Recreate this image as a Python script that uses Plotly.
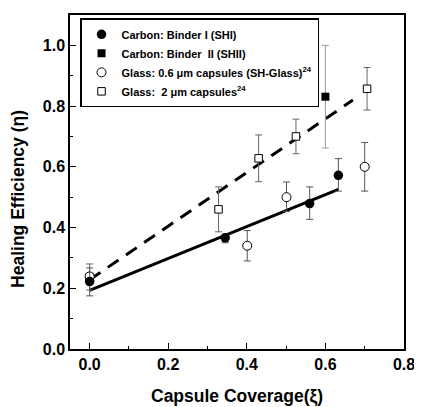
import plotly.graph_objects as go

# ---- data ----
shi_x = [0.0, 0.345, 0.56, 0.633]
shi_y = [0.222, 0.366, 0.479, 0.572]
shi_err_plus = [0.045, 0.012, 0.055, 0.055]
shi_err_minus = [0.047, 0.016, 0.052, 0.052]

shii_x = [0.60]
shii_y = [0.831]
shii_err_plus = [0.169]
shii_err_minus = [0.169]

glass06_x = [0.0, 0.401, 0.501, 0.70]
glass06_y = [0.239, 0.34, 0.50, 0.60]
glass06_err_plus = [0.0, 0.05, 0.05, 0.08]
glass06_err_minus = [0.0, 0.05, 0.047, 0.08]

glass2_x = [0.0, 0.328, 0.43, 0.525, 0.706]
glass2_y = [0.237, 0.46, 0.628, 0.70, 0.857]
glass2_err_plus = [0.043, 0.074, 0.077, 0.057, 0.07]
glass2_err_minus = [0.043, 0.074, 0.077, 0.057, 0.07]

fit_solid_x = [0.0, 0.633]
fit_solid_y = [0.193, 0.526]
fit_dash_x = [0.0, 0.67]
fit_dash_y = [0.228, 0.82]

legend_names = [
    "Carbon: Binder I (SHI)",
    "Carbon: Binder  II (SHII)",
    "Glass: 0.6 \u03bcm capsules (SH-Glass)<sup>24</sup>",
    "Glass:  2 \u03bcm capsules<sup>24</sup>",
]

x_ticks = [0.0, 0.2, 0.4, 0.6, 0.8]
y_ticks = [0.0, 0.2, 0.4, 0.6, 0.8, 1.0]

FONT = "Liberation Sans, Arial, sans-serif"

fig = go.Figure()

fig.add_trace(go.Scatter(x=fit_solid_x, y=fit_solid_y, mode="lines",
                         line=dict(color="black", width=3), showlegend=False,
                         hoverinfo="skip"))
fig.add_trace(go.Scatter(x=fit_dash_x, y=fit_dash_y, mode="lines",
                         line=dict(color="black", width=3, dash="13px,9px"),
                         showlegend=False, hoverinfo="skip"))


def err(plus, minus, color):
    return dict(type="data", array=plus, arrayminus=minus, visible=True,
                color=color, thickness=1, width=3.5)


fig.add_trace(go.Scatter(
    x=glass2_x, y=glass2_y, mode="markers", name=legend_names[3],
    marker=dict(symbol="square", size=7.5, color="white",
                line=dict(color="black", width=1)),
    error_y=err(glass2_err_plus, glass2_err_minus, "#666666")))
fig.add_trace(go.Scatter(
    x=glass06_x, y=glass06_y, mode="markers", name=legend_names[2],
    marker=dict(symbol="circle", size=9, color="white",
                line=dict(color="black", width=1)),
    error_y=err(glass06_err_plus, glass06_err_minus, "#555555")))
fig.add_trace(go.Scatter(
    x=shii_x, y=shii_y, mode="markers", name=legend_names[1],
    marker=dict(symbol="square", size=8, color="black",
                line=dict(color="black", width=0)),
    error_y=err(shii_err_plus, shii_err_minus, "#999999")))
fig.add_trace(go.Scatter(
    x=shi_x, y=shi_y, mode="markers", name=legend_names[0],
    marker=dict(symbol="circle", size=9.5, color="black",
                line=dict(color="black", width=0)),
    error_y=err(shi_err_plus, shi_err_minus, "#555555")))

axis_common = dict(
    showline=True, linecolor="black", linewidth=1.5, mirror=True,
    ticks="inside", ticklen=6, tickwidth=1.2, tickcolor="black",
    showgrid=False, zeroline=False,
    tickfont=dict(family=FONT, size=16, color="black", weight="bold"),
    tickformat=".1f",
    minor=dict(ticks="inside", ticklen=3, tickwidth=1.2, tickcolor="black",
               showgrid=False),
)

fig.update_xaxes(range=[-0.05, 0.8], tickvals=x_ticks,
                 minor_dtick=0.1, minor_tick0=0, **axis_common)
fig.update_yaxes(range=[0, 1.1], tickvals=y_ticks,
                 minor_dtick=0.1, minor_tick0=0, **axis_common)

# page body adds an 8px offset; figure is sized to fit the 422x407 window
fig.update_layout(
    width=413, height=398,
    margin=dict(l=62, r=14, t=5.5, b=56.5),
    paper_bgcolor="white", plot_bgcolor="white",
    font=dict(family=FONT, color="black"),
    legend=dict(x=0.03, y=0.99, xanchor="left", yanchor="top",
                bgcolor="white", bordercolor="black", borderwidth=1.5,
                font=dict(family=FONT, size=11, color="black", weight="bold"),
                traceorder="reversed", itemwidth=30),
    annotations=[
        dict(text="Capsule Coverage(\u03be)", xref="paper", yref="paper",
             x=0.5, y=-0.141, xanchor="center", yanchor="middle",
             showarrow=False,
             font=dict(family=FONT, size=17.5, color="black", weight="bold")),
        dict(text="Healing Efficiency (\u03b7)", xref="paper", yref="paper",
             x=-0.154, y=0.448, xanchor="center", yanchor="middle",
             textangle=-90, showarrow=False,
             font=dict(family=FONT, size=17.5, color="black", weight="bold")),
    ],
)

fig.write_html("out.html")
